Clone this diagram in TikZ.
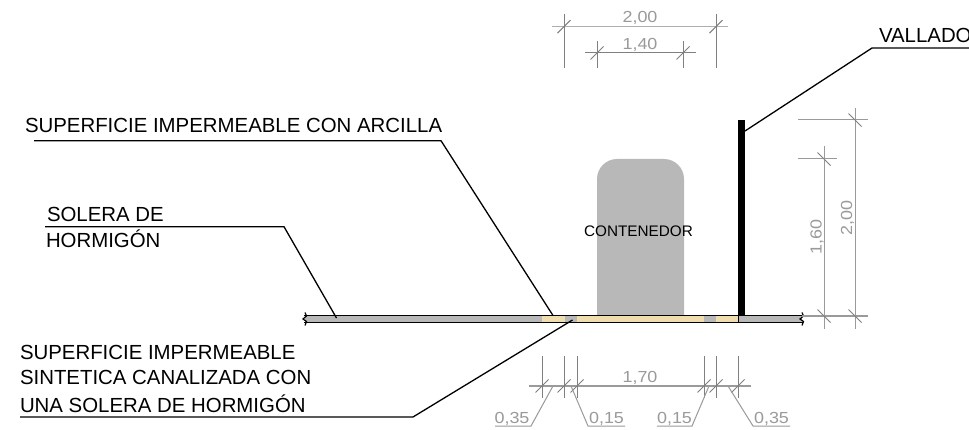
\documentclass[tikz,border=0pt]{standalone}
\usepackage{fontspec}
\setmainfont{Liberation Sans}
\newfontfamily\dimfont[FakeStretch=1.12]{Liberation Sans}
\definecolor{fillgray}{HTML}{B8B8B8}
\definecolor{sandy}{HTML}{F0DDAE}
\definecolor{dimgray}{HTML}{9A9A9A}
\tikzset{
  labeltext/.style={anchor=base west,inner sep=0pt,outer sep=0pt,text=black,font=\fontsize{20.4}{24}\selectfont},
  dimtext/.style={anchor=base,inner sep=0pt,outer sep=0pt,text=dimgray,font=\dimfont\fontsize{16}{18}\selectfont},
  leader/.style={draw=black,line width=1.3pt},
  dimline/.style={draw=dimgray,line width=1pt},
  slabline/.style={draw=black,line width=1.4pt},
  ticka/.pic={\draw[dimline,draw=gray] (-6.5,6.5)--(6.5,-6.5);},
  tickb/.pic={\draw[dimline,draw=gray] (-6.5,-6.5)--(6.5,6.5);}
}
\begin{document}
\begin{tikzpicture}[x=1pt,y=-1pt]
\useasboundingbox (0,0) rectangle (969,430);
\fill[white] (0,0) rectangle (969,430);

% slab
\fill[fillgray] (305,315.5) rectangle (802,322.5);
\fill[sandy] (542,316) rectangle (565,322);
\fill[sandy] (577,316) rectangle (704,322);
\fill[sandy] (716,316) rectangle (738,322);
\draw[slabline] (304,315.5) -- (803,315.5);
\draw[slabline] (304,322.7) -- (803,322.7);
\draw[black,line width=1pt] (738,316) -- (738,322);
\draw[black,line width=1.2pt] (305,312.5) -- (306.5,316) -- (303,319) -- (306.5,321.5) -- (305,325.5);
\draw[black,line width=1.2pt] (802,312.5) -- (803.5,316) -- (800,319) -- (803.5,321.5) -- (802,325.5);

% container
\fill[fillgray] (597,315) -- (597,179) .. controls (597,168) and (606,159) .. (617,159) -- (664,159) .. controls (675,159) and (684,168) .. (684,179) -- (684,315) -- cycle;
\node[anchor=base,inner sep=0pt,font=\fontsize{15.3}{18}\selectfont] (cont) at (638.5,237) {CONTENEDOR};

% fence
\fill[black] (738,120) rectangle (745,315);

% named leader points
\coordinate (arcA) at (34,140.7);
\coordinate (arcB) at (441,140.7);
\coordinate (arcC) at (553,315.5);
\coordinate (solA) at (45,226.7);
\coordinate (solB) at (284,226.7);
\coordinate (solC) at (336.5,318);
\coordinate (sinA) at (20,417);
\coordinate (sinB) at (413,417);
\coordinate (sinC) at (572.5,320);
\coordinate (valA) at (969,48);
\coordinate (valB) at (872,48);
\coordinate (valC) at (745,131);

% labels
\node[labeltext] (arc) at (25,132.5) {SUPERFICIE IMPERMEABLE CON ARCILLA};
\node[labeltext] (sol1) at (47,221.5) {SOLERA DE};
\node[labeltext] (sol2) at (46,248) {HORMIGÓN};
\node[labeltext] (sin1) at (20,359) {SUPERFICIE IMPERMEABLE};
\node[labeltext] (sin2) at (20,384) {SINTETICA CANALIZADA CON};
\node[labeltext] (sin3) at (20,412) {UNA SOLERA DE HORMIGÓN};
\node[labeltext] (val) at (879,43) {VALLADO};

\draw[leader] (arcA) -- (arcB) -- (arcC);
\draw[leader] (solA) -- (solB) -- (solC);
\draw[leader] (sinA) -- (sinB) -- (sinC);
\draw[leader] (valA) -- (valB) -- (valC);

% top dimensions
\draw[dimline,line width=1.3pt,draw=dimgray!80] (552,26.7) -- (728,26.7);
\draw[dimline,draw=gray] (564,14) -- (564,68);
\draw[dimline,draw=gray] (716,14) -- (716,68);
\pic at (564,26.7) {ticka};
\pic at (716,26.7) {ticka};
\node[dimtext] (d200t) at (640,23) {2,00};
\draw[dimline,draw=gray] (585,53) -- (696,53);
\draw[dimline,draw=gray] (597,41) -- (597,68);
\draw[dimline,draw=gray] (683,41) -- (683,68);
\pic at (597,53) {ticka};
\pic at (683,53) {ticka};
\node[dimtext] (d140) at (640,50) {1,40};

% right dimensions
\draw[dimline] (855,108) -- (855,329);
\draw[dimline] (798,120) -- (868,120);
\draw[dimline] (802,316) -- (868,316);
\pic at (855,120) {tickb};
\pic at (855,316) {tickb};
\node[dimtext,rotate=90] (d200r) at (852,218) {2,00};
\draw[dimline] (824,146) -- (824,329);
\draw[dimline] (798,159) -- (837,159);
\pic at (824,159) {tickb};
\pic at (824,316) {tickb};
\node[dimtext,rotate=90] (d160) at (821.5,237) {1,60};

% bottom dimensions
\draw[dimline,line width=1.2pt] (529,386) -- (751,386);
\foreach \px in {542,564,577,704,716,738}{
  \draw[dimline,draw=gray] (\px,356) -- (\px,398);
  \pic at (\px,386) {ticka};
}
\node[dimtext] (d170) at (640,382) {1,70};

\coordinate (la) at (553,386);
\coordinate (lb) at (531,426);
\coordinate (lc) at (495,426);
\draw[dimline] (la) -- (lb) -- (lc);
\node[dimtext] (d35l) at (512,423) {0,35};
\coordinate (ma) at (571,386);
\coordinate (mb) at (588,426);
\coordinate (mc) at (625,426);
\draw[dimline] (ma) -- (mb) -- (mc);
\node[dimtext] (d15l) at (606.5,423) {0,15};
\coordinate (na) at (709,386);
\coordinate (nb) at (692,426);
\coordinate (nc) at (657,426);
\draw[dimline] (na) -- (nb) -- (nc);
\node[dimtext] (d15r) at (674.5,423) {0,15};
\coordinate (oa) at (728,386);
\coordinate (ob) at (753,426);
\coordinate (oc) at (790,426);
\draw[dimline] (oa) -- (ob) -- (oc);
\node[dimtext] (d35r) at (771.5,423) {0,35};
\end{tikzpicture}
\end{document}
